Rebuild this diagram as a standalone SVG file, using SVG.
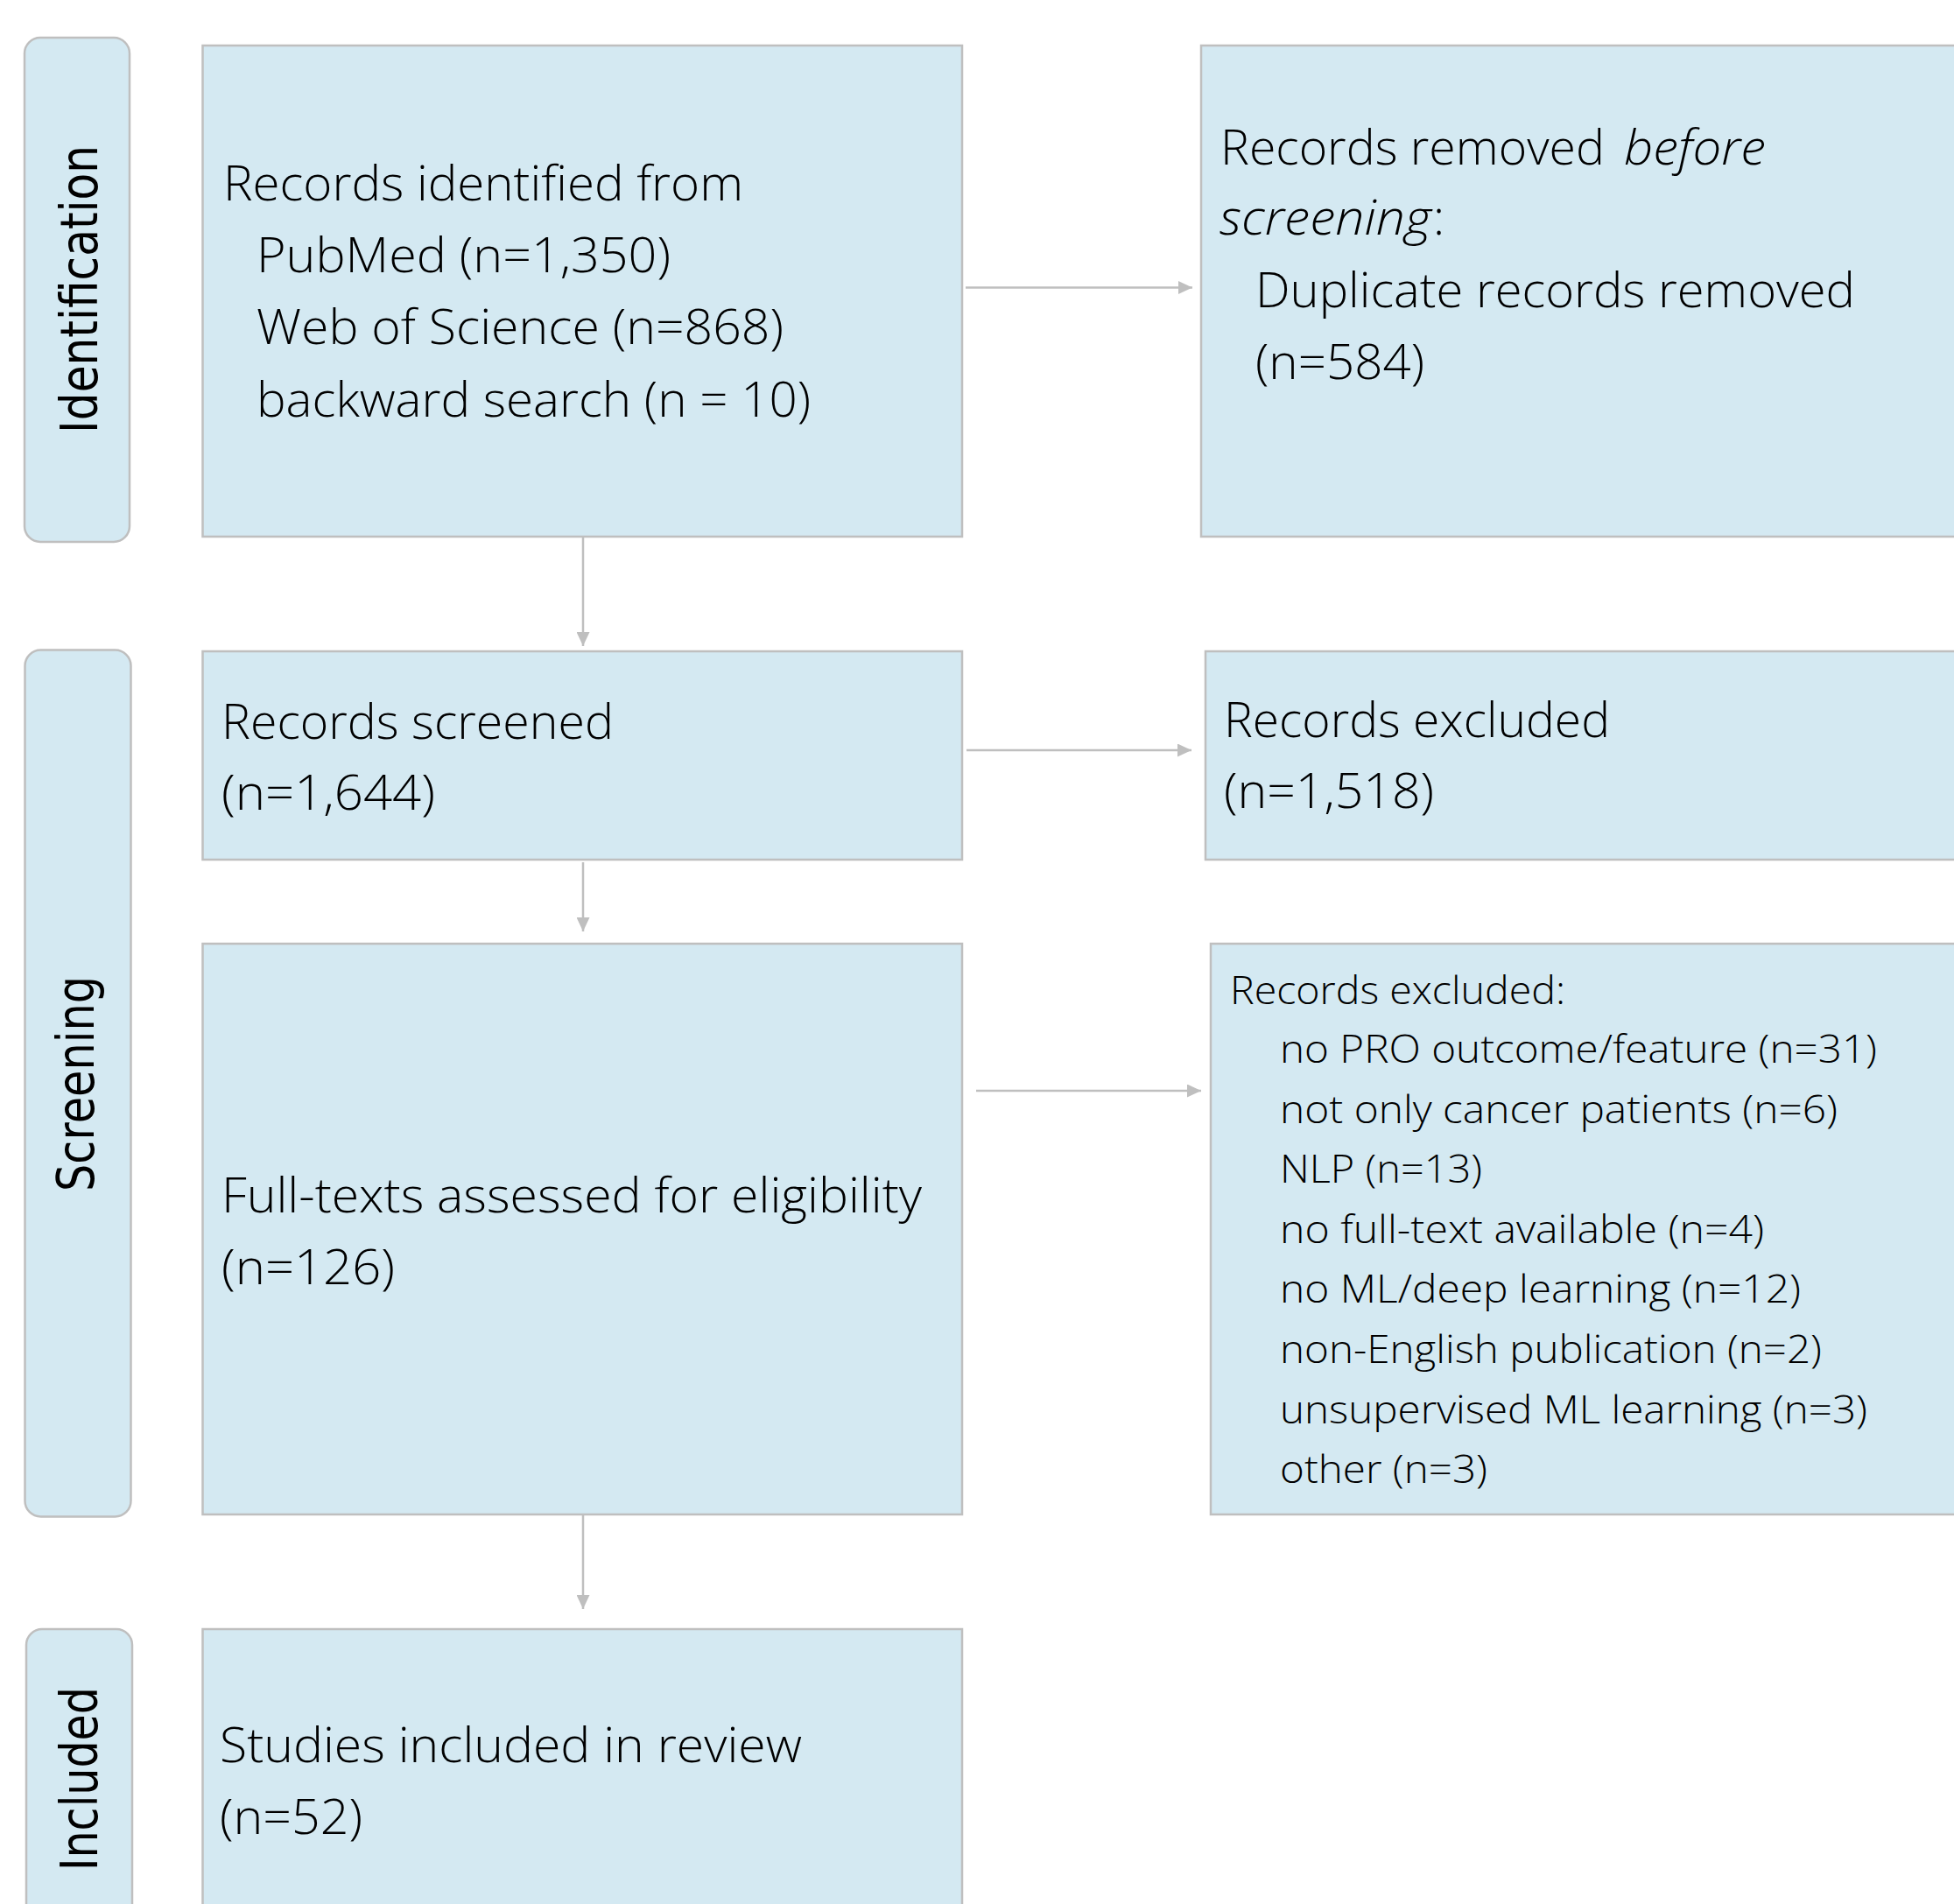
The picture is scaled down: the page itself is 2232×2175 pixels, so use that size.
<svg xmlns="http://www.w3.org/2000/svg" width="2232" height="2175" viewBox="0 0 2232 2175">
<style>
.box{fill:#d4e9f2;stroke:#bfbfbf;stroke-width:2.5}
.phase{fill:#d4e9f2;stroke:#bfbfbf;stroke-width:2.5}
.t{font-family:"Open Sans","Liberation Sans",sans-serif;font-weight:300;font-size:55px;fill:#000}
.s{font-family:"Open Sans","Liberation Sans",sans-serif;font-weight:300;font-size:44px;fill:#000}
.p{font-family:"DejaVu Sans","Liberation Sans",sans-serif;font-size:58px;fill:#000;text-anchor:middle}
.c{stroke:#bfbfbf;stroke-width:2.5;fill:none;marker-end:url(#ah)}
</style>
<defs>
<marker id="ah" markerUnits="userSpaceOnUse" markerWidth="16" markerHeight="15" refX="16" refY="7.5" orient="auto">
<path d="M0,0 L16,7.5 L0,15 Z" fill="#bfbfbf"/>
</marker>
</defs>
<rect width="2232" height="2175" fill="#ffffff"/>

<g id="phase-identification">
<rect class="phase" x="28" y="43" width="120" height="576" rx="18"/>
<text class="p" transform="translate(111,330.5) rotate(-90)" textLength="329" lengthAdjust="spacingAndGlyphs">Identification</text>
</g>
<g id="phase-screening">
<rect class="phase" x="28.5" y="742.5" width="121" height="990" rx="18"/>
<text class="p" transform="translate(107,1238) rotate(-90)" textLength="246" lengthAdjust="spacingAndGlyphs">Screening</text>
</g>
<g id="phase-included">
<rect class="phase" x="30" y="1861" width="121" height="360" rx="18"/>
<text class="p" transform="translate(111,2032) rotate(-90)" textLength="210" lengthAdjust="spacingAndGlyphs">Included</text>
</g>

<g id="identified">
<rect class="box" x="231.5" y="52" width="867.5" height="561"/>
<text class="t" x="255" y="229" textLength="594" lengthAdjust="spacingAndGlyphs">Records identified from</text>
<text class="t" x="293" y="311" textLength="473" lengthAdjust="spacingAndGlyphs">PubMed (n=1,350)</text>
<text class="t" x="293" y="393" textLength="602" lengthAdjust="spacingAndGlyphs">Web of Science (n=868)</text>
<text class="t" x="293" y="476" textLength="633" lengthAdjust="spacingAndGlyphs">backward search (n = 10)</text>
</g>

<g id="removed">
<rect class="box" x="1372" y="52" width="900" height="561"/>
<text class="t" y="188"><tspan x="1394" textLength="439" lengthAdjust="spacingAndGlyphs">Records removed</tspan><tspan x="1855" font-style="italic" textLength="162" lengthAdjust="spacingAndGlyphs">before</tspan></text>
<text class="t" y="268"><tspan x="1393" font-style="italic" textLength="242" lengthAdjust="spacingAndGlyphs">screening</tspan><tspan x="1637">:</tspan></text>
<text class="t" x="1434" y="351" textLength="685" lengthAdjust="spacingAndGlyphs">Duplicate records removed</text>
<text class="t" x="1434" y="433" textLength="193" lengthAdjust="spacingAndGlyphs">(n=584)</text>
</g>

<g id="screened">
<rect class="box" x="231.5" y="744" width="867.5" height="238"/>
<text class="t" x="253" y="844" textLength="448" lengthAdjust="spacingAndGlyphs">Records screened</text>
<text class="t" x="253" y="925" textLength="244" lengthAdjust="spacingAndGlyphs">(n=1,644)</text>
</g>

<g id="excluded1">
<rect class="box" x="1377" y="744" width="900" height="238"/>
<text class="t" x="1398" y="842" textLength="441" lengthAdjust="spacingAndGlyphs">Records excluded</text>
<text class="t" x="1398" y="923" textLength="240" lengthAdjust="spacingAndGlyphs">(n=1,518)</text>
</g>

<g id="fulltext">
<rect class="box" x="231.5" y="1078" width="867.5" height="652"/>
<text class="t" x="253" y="1385" textLength="800" lengthAdjust="spacingAndGlyphs">Full-texts assessed for eligibility</text>
<text class="t" x="253" y="1467" textLength="198" lengthAdjust="spacingAndGlyphs">(n=126)</text>
</g>

<g id="excluded2">
<rect class="box" x="1383" y="1078" width="900" height="652"/>
<text class="s" x="1405" y="1147" textLength="383" lengthAdjust="spacingAndGlyphs">Records excluded:</text>
<text class="s" x="1462" y="1214" textLength="682" lengthAdjust="spacingAndGlyphs">no PRO outcome/feature (n=31)</text>
<text class="s" x="1462" y="1282.6" textLength="637" lengthAdjust="spacingAndGlyphs">not only cancer patients (n=6)</text>
<text class="s" x="1462" y="1351.2" textLength="231" lengthAdjust="spacingAndGlyphs">NLP (n=13)</text>
<text class="s" x="1462" y="1419.8" textLength="553" lengthAdjust="spacingAndGlyphs">no full-text available (n=4)</text>
<text class="s" x="1462" y="1488.4" textLength="595" lengthAdjust="spacingAndGlyphs">no ML/deep learning (n=12)</text>
<text class="s" x="1462" y="1557" textLength="619" lengthAdjust="spacingAndGlyphs">non-English publication (n=2)</text>
<text class="s" x="1462" y="1625.6" textLength="671" lengthAdjust="spacingAndGlyphs">unsupervised ML learning (n=3)</text>
<text class="s" x="1462" y="1694.2" textLength="237" lengthAdjust="spacingAndGlyphs">other (n=3)</text>
</g>

<g id="included">
<rect class="box" x="231.5" y="1861" width="867.5" height="360"/>
<text class="t" x="251" y="2013" textLength="665" lengthAdjust="spacingAndGlyphs">Studies included in review</text>
<text class="t" x="251" y="2095" textLength="163" lengthAdjust="spacingAndGlyphs">(n=52)</text>
</g>

<g id="connectors">
<line class="c" x1="666" y1="614" x2="666" y2="738"/>
<line class="c" x1="1103" y1="328.5" x2="1362" y2="328.5"/>
<line class="c" x1="666" y1="985" x2="666" y2="1064"/>
<line class="c" x1="1104" y1="857" x2="1361" y2="857"/>
<line class="c" x1="1115" y1="1246" x2="1372" y2="1246"/>
<line class="c" x1="666" y1="1731" x2="666" y2="1838"/>
</g>
</svg>
